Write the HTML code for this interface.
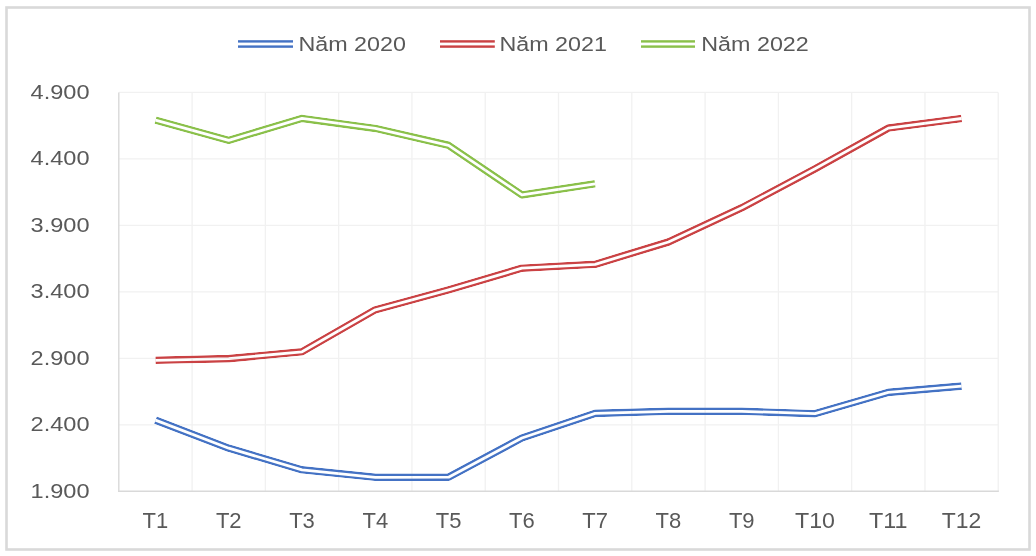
<!DOCTYPE html>
<html><head><meta charset="utf-8"><style>
html,body{margin:0;padding:0;background:#fff;width:1036px;height:556px;overflow:hidden}
svg{display:block}
#wrap{width:1036px;height:556px;will-change:transform}
text{font-family:"Liberation Sans",sans-serif;fill:#595959}
.yl{font-size:21px}
.xl{font-size:22px}
.lg{font-size:20px}
</style></head><body>
<div id="wrap"><svg width="1036" height="556" viewBox="0 0 1036 556">
<defs><mask id="mb" maskUnits="userSpaceOnUse" x="0" y="0" width="1036" height="556"><polyline points="155.44,420.10 228.73,448.20 302.02,469.80 375.31,477.30 448.59,477.20 521.88,438.00 595.17,413.40 668.46,411.30 741.74,411.30 815.03,413.70 888.32,392.40 961.61,386.10" fill="none" stroke="#fff" stroke-width="7.6" stroke-linejoin="round"/><polyline points="155.44,420.10 228.73,448.20 302.02,469.80 375.31,477.30 448.59,477.20 521.88,438.00 595.17,413.40 668.46,411.30 741.74,411.30 815.03,413.70 888.32,392.40 961.61,386.10" fill="none" stroke="#000" stroke-width="2.8" stroke-linejoin="round"/></mask><mask id="mr" maskUnits="userSpaceOnUse" x="0" y="0" width="1036" height="556"><polyline points="155.44,360.30 228.73,358.60 302.02,351.80 375.31,309.80 448.59,289.80 521.88,268.20 595.17,264.30 668.46,242.00 741.74,207.80 815.03,168.80 888.32,128.10 961.61,118.50" fill="none" stroke="#fff" stroke-width="7.6" stroke-linejoin="round"/><polyline points="155.44,360.30 228.73,358.60 302.02,351.80 375.31,309.80 448.59,289.80 521.88,268.20 595.17,264.30 668.46,242.00 741.74,207.80 815.03,168.80 888.32,128.10 961.61,118.50" fill="none" stroke="#000" stroke-width="2.8" stroke-linejoin="round"/></mask><mask id="mg" maskUnits="userSpaceOnUse" x="0" y="0" width="1036" height="556"><polyline points="155.44,120.20 228.73,140.30 302.02,118.40 375.31,128.40 448.59,145.30 521.88,194.90 595.17,183.80" fill="none" stroke="#fff" stroke-width="7.6" stroke-linejoin="round"/><polyline points="155.44,120.20 228.73,140.30 302.02,118.40 375.31,128.40 448.59,145.30 521.88,194.90 595.17,183.80" fill="none" stroke="#000" stroke-width="2.8" stroke-linejoin="round"/></mask></defs>
<rect x="6.5" y="7.5" width="1023" height="542" fill="#fff" stroke="#d9d9d9" stroke-width="2.6"/>
<line x1="118.8" y1="92.40" x2="998.25" y2="92.40" stroke="#f1f1f1" stroke-width="1.3"/>
<line x1="118.8" y1="158.88" x2="998.25" y2="158.88" stroke="#f1f1f1" stroke-width="1.3"/>
<line x1="118.8" y1="225.37" x2="998.25" y2="225.37" stroke="#f1f1f1" stroke-width="1.3"/>
<line x1="118.8" y1="291.85" x2="998.25" y2="291.85" stroke="#f1f1f1" stroke-width="1.3"/>
<line x1="118.8" y1="358.33" x2="998.25" y2="358.33" stroke="#f1f1f1" stroke-width="1.3"/>
<line x1="118.8" y1="424.82" x2="998.25" y2="424.82" stroke="#f1f1f1" stroke-width="1.3"/>
<line x1="192.09" y1="92.4" x2="192.09" y2="491.3" stroke="#f1f1f1" stroke-width="1.3"/>
<line x1="265.38" y1="92.4" x2="265.38" y2="491.3" stroke="#f1f1f1" stroke-width="1.3"/>
<line x1="338.66" y1="92.4" x2="338.66" y2="491.3" stroke="#f1f1f1" stroke-width="1.3"/>
<line x1="411.95" y1="92.4" x2="411.95" y2="491.3" stroke="#f1f1f1" stroke-width="1.3"/>
<line x1="485.24" y1="92.4" x2="485.24" y2="491.3" stroke="#f1f1f1" stroke-width="1.3"/>
<line x1="558.52" y1="92.4" x2="558.52" y2="491.3" stroke="#f1f1f1" stroke-width="1.3"/>
<line x1="631.81" y1="92.4" x2="631.81" y2="491.3" stroke="#f1f1f1" stroke-width="1.3"/>
<line x1="705.10" y1="92.4" x2="705.10" y2="491.3" stroke="#f1f1f1" stroke-width="1.3"/>
<line x1="778.39" y1="92.4" x2="778.39" y2="491.3" stroke="#f1f1f1" stroke-width="1.3"/>
<line x1="851.68" y1="92.4" x2="851.68" y2="491.3" stroke="#f1f1f1" stroke-width="1.3"/>
<line x1="924.96" y1="92.4" x2="924.96" y2="491.3" stroke="#f1f1f1" stroke-width="1.3"/>
<line x1="998.25" y1="92.4" x2="998.25" y2="491.3" stroke="#f1f1f1" stroke-width="1.3"/>
<line x1="118.8" y1="92.40" x2="118.8" y2="491.90" stroke="#d9d9d9" stroke-width="1.4"/>
<line x1="118.2" y1="491.3" x2="998.85" y2="491.3" stroke="#d9d9d9" stroke-width="1.4"/>
<text x="30.60" y="99.00" class="yl" textLength="59" lengthAdjust="spacingAndGlyphs">4.900</text>
<text x="30.60" y="165.48" class="yl" textLength="59" lengthAdjust="spacingAndGlyphs">4.400</text>
<text x="30.60" y="231.97" class="yl" textLength="59" lengthAdjust="spacingAndGlyphs">3.900</text>
<text x="30.60" y="298.45" class="yl" textLength="59" lengthAdjust="spacingAndGlyphs">3.400</text>
<text x="30.60" y="364.93" class="yl" textLength="59" lengthAdjust="spacingAndGlyphs">2.900</text>
<text x="30.60" y="431.42" class="yl" textLength="59" lengthAdjust="spacingAndGlyphs">2.400</text>
<text x="30.60" y="497.90" class="yl" textLength="59" lengthAdjust="spacingAndGlyphs">1.900</text>
<text x="155.44" y="528" text-anchor="middle" class="xl">T1</text>
<text x="228.73" y="528" text-anchor="middle" class="xl">T2</text>
<text x="302.02" y="528" text-anchor="middle" class="xl">T3</text>
<text x="375.31" y="528" text-anchor="middle" class="xl">T4</text>
<text x="448.59" y="528" text-anchor="middle" class="xl">T5</text>
<text x="521.88" y="528" text-anchor="middle" class="xl">T6</text>
<text x="595.17" y="528" text-anchor="middle" class="xl">T7</text>
<text x="668.46" y="528" text-anchor="middle" class="xl">T8</text>
<text x="741.74" y="528" text-anchor="middle" class="xl">T9</text>
<text x="815.03" y="528" text-anchor="middle" class="xl" textLength="40" lengthAdjust="spacingAndGlyphs">T10</text>
<text x="888.32" y="528" text-anchor="middle" class="xl" textLength="38.5" lengthAdjust="spacingAndGlyphs">T11</text>
<text x="961.61" y="528" text-anchor="middle" class="xl" textLength="39.5" lengthAdjust="spacingAndGlyphs">T12</text>
<polyline points="155.44,420.10 228.73,448.20 302.02,469.80 375.31,477.30 448.59,477.20 521.88,438.00 595.17,413.40 668.46,411.30 741.74,411.30 815.03,413.70 888.32,392.40 961.61,386.10" fill="none" stroke="#4472C4" stroke-width="7.6" stroke-linejoin="round" mask="url(#mb)"/>
<polyline points="155.44,360.30 228.73,358.60 302.02,351.80 375.31,309.80 448.59,289.80 521.88,268.20 595.17,264.30 668.46,242.00 741.74,207.80 815.03,168.80 888.32,128.10 961.61,118.50" fill="none" stroke="#CA4244" stroke-width="7.6" stroke-linejoin="round" mask="url(#mr)"/>
<polyline points="155.44,120.20 228.73,140.30 302.02,118.40 375.31,128.40 448.59,145.30 521.88,194.90 595.17,183.80" fill="none" stroke="#8AC04A" stroke-width="7.6" stroke-linejoin="round" mask="url(#mg)"/>
<rect x="238" y="40.20" width="55" height="2.40" fill="#4472C4"/>
<rect x="238" y="45.40" width="55" height="2.40" fill="#4472C4"/>
<text x="298.4" y="50.6" class="lg" textLength="107.5" lengthAdjust="spacingAndGlyphs">Năm 2020</text>
<rect x="440" y="40.20" width="54.80000000000001" height="2.40" fill="#CA4244"/>
<rect x="440" y="45.40" width="54.80000000000001" height="2.40" fill="#CA4244"/>
<text x="499.4" y="50.6" class="lg" textLength="107.5" lengthAdjust="spacingAndGlyphs">Năm 2021</text>
<rect x="641" y="40.20" width="54" height="2.40" fill="#8AC04A"/>
<rect x="641" y="45.40" width="54" height="2.40" fill="#8AC04A"/>
<text x="701.3" y="50.6" class="lg" textLength="107.5" lengthAdjust="spacingAndGlyphs">Năm 2022</text>
</svg></div>
</body></html>
